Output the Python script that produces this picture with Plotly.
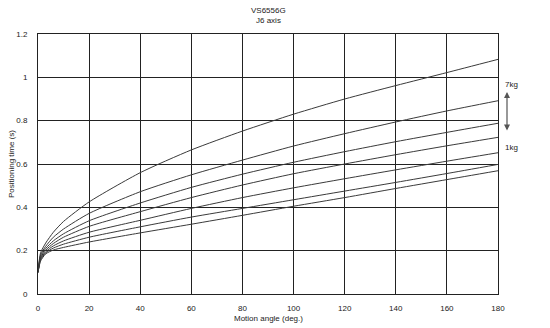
import plotly.graph_objects as go

angles = [0, 1, 3, 6, 10, 20, 40, 60, 80, 100, 120, 140, 160, 180]
load_labels = ["7kg", "6kg", "5kg", "4kg", "3kg", "2kg", "1kg"]
times_7kg = [0.1, 0.19, 0.235, 0.285, 0.335, 0.425, 0.56, 0.665, 0.752, 0.83, 0.90, 0.962, 1.022, 1.083]
times_6kg = [0.1, 0.18, 0.22, 0.262, 0.30, 0.372, 0.472, 0.55, 0.618, 0.683, 0.74, 0.794, 0.845, 0.892]
times_5kg = [0.1, 0.173, 0.21, 0.245, 0.278, 0.338, 0.42, 0.492, 0.553, 0.608, 0.657, 0.703, 0.746, 0.788]
times_4kg = [0.1, 0.167, 0.202, 0.233, 0.262, 0.312, 0.38, 0.445, 0.503, 0.555, 0.60, 0.643, 0.684, 0.723]
times_3kg = [0.1, 0.162, 0.195, 0.222, 0.245, 0.285, 0.34, 0.395, 0.445, 0.49, 0.532, 0.573, 0.613, 0.652]
times_2kg = [0.1, 0.157, 0.19, 0.212, 0.23, 0.262, 0.31, 0.355, 0.395, 0.435, 0.475, 0.515, 0.556, 0.598]
times_1kg = [0.1, 0.152, 0.185, 0.203, 0.215, 0.24, 0.282, 0.322, 0.363, 0.405, 0.445, 0.487, 0.528, 0.569]
series = [times_7kg, times_6kg, times_5kg, times_4kg, times_3kg, times_2kg, times_1kg]

x_ticks = [0, 20, 40, 60, 80, 100, 120, 140, 160, 180]
y_ticks = [0, 0.2, 0.4, 0.6, 0.8, 1, 1.2]
y_tick_text = ["0", "0.2", "0.4", "0.6", "0.8", "1", "1.2"]

FONT = "Liberation Sans, Arial, sans-serif"
fig = go.Figure()
for name, ys in zip(load_labels, series):
    fig.add_trace(go.Scatter(x=angles, y=ys, mode="lines", name=name,
                             line=dict(color="#3a3a3a", width=1, shape="spline", smoothing=0.6),
                             showlegend=False, hoverinfo="skip"))

# layout geometry (pixels)
L, R, T, B = 38, 52, 34, 34
pw, ph = 550 - L - R, 328 - T - B
def px(xp):
    return (xp - L) / pw
def py(yp):
    return (328 - B - yp) / ph

fig.update_layout(
    width=550, height=328,
    margin=dict(l=L, r=R, t=T, b=B),
    paper_bgcolor="white", plot_bgcolor="white",
    font=dict(family=FONT, size=8, color="#222"),
    xaxis=dict(range=[0, 180], tickvals=x_ticks, showgrid=True, gridcolor="#222", gridwidth=1,
               showline=True, linecolor="#222", linewidth=1, mirror=True, zeroline=False,
               ticks="", tickfont=dict(size=8), ticklabelstandoff=6, fixedrange=True),
    yaxis=dict(range=[0, 1.2], tickvals=y_ticks, ticktext=y_tick_text, showgrid=True,
               gridcolor="#222", gridwidth=1, showline=True, linecolor="#222", linewidth=1,
               mirror=True, zeroline=False, ticks="", tickfont=dict(size=8),
               ticklabelstandoff=8, fixedrange=True),
)

texts = [
    ("VS6556G", 268, 10, "center", 0),
    ("J6 axis", 268, 21, "center", 0),
    ("Positioning time (s)", 11, 164, "center", -90),
    ("Motion angle (deg.)", 268, 318, "center", 0),
    ("7kg", 503, 84, "left", 0),
    ("1kg", 503, 147, "left", 0),
]
for t, xp, yp, xa, ang in texts:
    fig.add_annotation(text=t, x=px(xp), y=py(yp), xref="paper", yref="paper",
                       showarrow=False, xanchor=xa, yanchor="middle", textangle=ang,
                       font=dict(size=8))

fig.add_annotation(x=px(507), y=py(92), xref="paper", yref="paper",
                   ax=0, ay=40, axref="pixel", ayref="pixel",
                   showarrow=True, arrowhead=2, startarrowhead=2, arrowside="end+start",
                   arrowwidth=1.2, arrowsize=1, startarrowsize=1, arrowcolor="#555", text="")

fig.write_html("out.html")
